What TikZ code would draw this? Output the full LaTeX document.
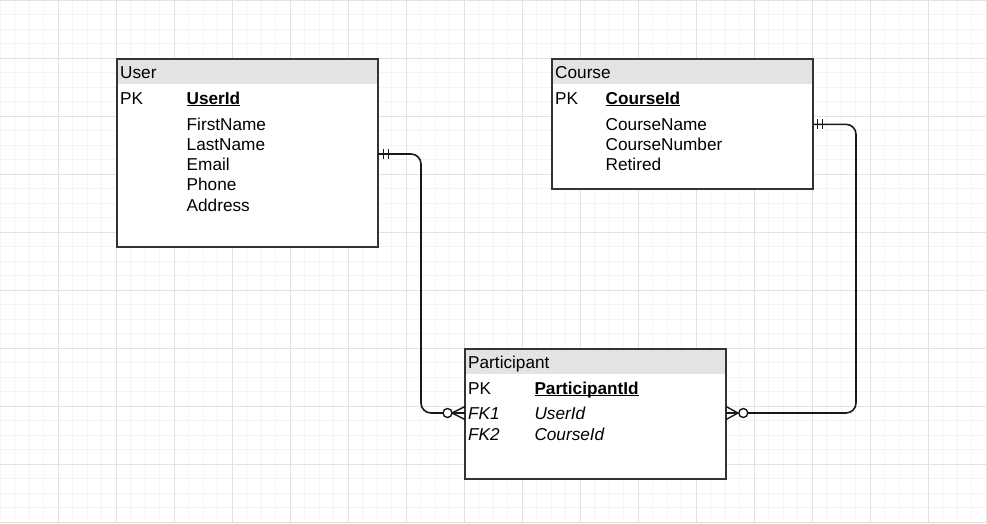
\documentclass[tikz,border=0pt]{standalone}
\usepackage{fontspec}
\setmainfont{Liberation Sans}
\usetikzlibrary{calc}
\definecolor{gridminor}{HTML}{F4F4F4}
\definecolor{gridmajor}{HTML}{E2E2E2}
\definecolor{hdrfill}{HTML}{E3E3E3}
\definecolor{edge}{HTML}{333333}
\tikzset{
  entity/.style={draw=edge, line width=1.7pt, fill=white, anchor=north west, inner sep=0pt, outer sep=0pt,
    path picture={\fill[hdrfill] (path picture bounding box.north west) rectangle ([yshift=-25pt]path picture bounding box.north east);}},
  lbl/.style={anchor=base west, inner sep=0pt, font=\fontsize{17.2}{19}\selectfont},
  conn/.style={line width=1.6pt, draw=black!90, rounded corners=10pt},
  tick/.style={line width=1.4pt, draw=black!90},
  ring/.style={line width=1.4pt, draw=black!90, fill=white},
}
\newcommand{\pkey}[1]{\setbox0\hbox{\textbf{#1}}\rlap{\rule[-2.4pt]{\wd0}{1.3pt}}\box0}
\begin{document}
\begin{tikzpicture}[x=1pt,y=-1pt]
\useasboundingbox (0,0) rectangle (987,523);
\fill[white] (0,0) rectangle (987,523);
% grid
\foreach \i in {0,...,68} {
  \pgfmathsetmacro{\gx}{\i*14.5}
  \draw[gridminor, line width=1pt] (\gx,0) -- (\gx,523);
}
\foreach \i in {0,...,36} {
  \pgfmathsetmacro{\gy}{\i*14.5+0}
  \draw[gridminor, line width=1pt] (0,\gy) -- (987,\gy);
}
\foreach \i in {1,...,17} {
  \draw[gridmajor, line width=1pt] (\i*58,0) -- (\i*58,523);
}
\foreach \i in {0,...,9} {
  \draw[gridmajor, line width=1pt] (0,\i*58) -- (987,\i*58);
}

% entities
\node[entity, minimum width=261pt, minimum height=188pt] (user) at (117,59) {};
\node[entity, minimum width=261pt, minimum height=130pt] (course) at (552,59) {};
\node[entity, minimum width=261pt, minimum height=130pt] (part) at (465,349) {};

% User texts
\node[lbl] (uT) at (120,78) {User};
\node[lbl] (uPK) at (120,104) {PK};
\node[lbl] (uId) at (186.5,104) {\pkey{UserId}};
\node[lbl] (uA1) at (186.5,130) {FirstName};
\node[lbl] (uA2) at (186.5,150.3) {LastName};
\node[lbl] (uA3) at (186.5,170.6) {Email};
\node[lbl] (uA4) at (186.5,190.9) {Phone};
\node[lbl] (uA5) at (186.5,211.2) {Address};

% Course texts
\node[lbl] (cT) at (555,78) {Course};
\node[lbl] (cPK) at (555,104) {PK};
\node[lbl] (cId) at (605.5,104) {\pkey{CourseId}};
\node[lbl] (cA1) at (605.5,130) {CourseName};
\node[lbl] (cA2) at (605.5,150.3) {CourseNumber};
\node[lbl] (cA3) at (605.5,170.6) {Retired};

% Participant texts
\node[lbl] (pT) at (468,368) {Participant};
\node[lbl] (pPK) at (468,394) {PK};
\node[lbl] (pId) at (534.3,394) {\pkey{ParticipantId}};
\node[lbl] (pF1) at (468,419.5) {\itshape FK1};
\node[lbl] (pF2) at (468,440) {\itshape FK2};
\node[lbl] (pA1) at (534.3,419.5) {\itshape UserId};
\node[lbl] (pA2) at (534.3,440) {\itshape CourseId};

% connector endpoints
\coordinate (uEnd) at ($(user.north east)+(0,95)$);
\coordinate (cEnd) at ($(course.north east)+(0,65.3)$);
\coordinate (pL) at ($(part.north west)+(0,64)$);
\coordinate (pR) at ($(part.north east)+(0,64)$);
\coordinate (uBend) at (421,154);
\coordinate (cBend) at (856,124.3);

% User -> Participant
\draw[conn] (uEnd) -- (uBend) -- (uBend |- pL) -- ($(pL)+(-22,0)$);
\draw[tick] ($(uEnd)+(5.3,-5)$) -- ++(0,10);
\draw[tick] ($(uEnd)+(10.3,-5)$) -- ++(0,10);
\draw[tick] ($(pL)+(-13,0)$) -- (pL);
\draw[tick] ($(pL)+(-13,0)$) -- ($(pL)+(0,-6.5)$);
\draw[tick] ($(pL)+(-13,0)$) -- ($(pL)+(0,6.5)$);
\draw[ring] ($(pL)+(-17.5,0)$) circle (4.5pt);

% Course -> Participant
\draw[conn] (cEnd) -- (cBend) -- (cBend |- pR) -- ($(pR)+(22,0)$);
\draw[tick] ($(cEnd)+(4.7,-5)$) -- ++(0,10);
\draw[tick] ($(cEnd)+(9.7,-5)$) -- ++(0,10);
\draw[tick] ($(pR)+(12,0)$) -- (pR);
\draw[tick] ($(pR)+(12,0)$) -- ($(pR)+(0,-6.5)$);
\draw[tick] ($(pR)+(12,0)$) -- ($(pR)+(0,6.5)$);
\draw[ring] ($(pR)+(17.3,0)$) circle (4.5pt);
\end{tikzpicture}
\end{document}
